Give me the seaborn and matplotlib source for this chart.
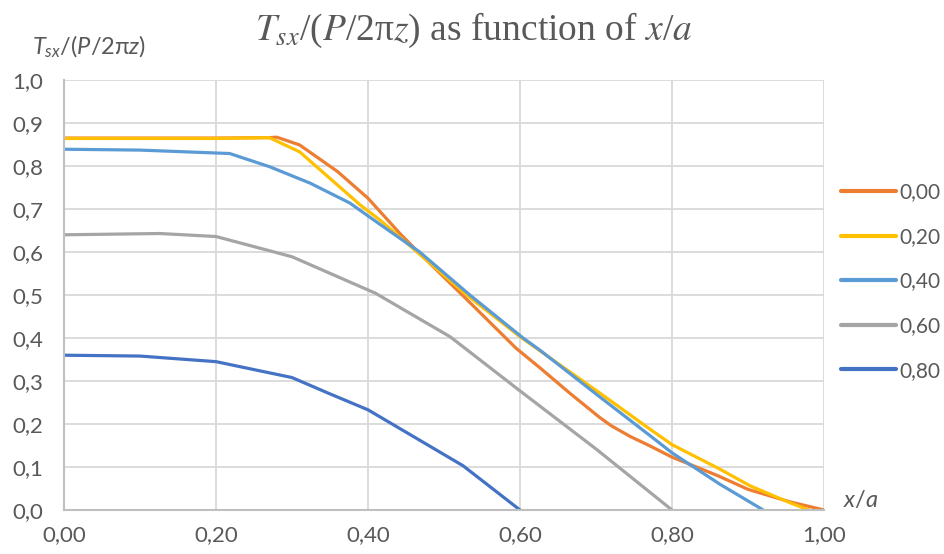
import numpy as np
import pandas as pd
import matplotlib
matplotlib.use("Agg")
import matplotlib.pyplot as plt
import seaborn as sns

# ---- data ----
series_names = ["0,00", "0,20", "0,40", "0,60", "0,80"]

x_000 = [0.00, 0.10, 0.20, 0.27, 0.28, 0.31, 0.36, 0.40, 0.442, 0.466, 0.524, 0.595, 0.626, 0.666,
         0.705, 0.72, 0.745, 0.771, 0.80, 0.86, 0.90, 0.955, 1.00]
y_000 = [0.865, 0.865, 0.865, 0.866, 0.867, 0.849, 0.787, 0.725, 0.643, 0.60, 0.50, 0.376, 0.331, 0.271,
         0.215, 0.196, 0.171, 0.149, 0.123, 0.08, 0.048, 0.019, 0.0]

x_020 = [0.00, 0.10, 0.20, 0.27, 0.31, 0.39, 0.416, 0.46, 0.53, 0.60, 0.705, 0.771, 0.80, 0.863, 0.903, 0.955, 0.98]
y_020 = [0.864, 0.864, 0.864, 0.866, 0.833, 0.709, 0.674, 0.607, 0.50, 0.403, 0.272, 0.188, 0.152, 0.095, 0.056, 0.017, 0.0]

x_040 = [0.00, 0.10, 0.218, 0.271, 0.324, 0.376, 0.42, 0.468, 0.534, 0.604, 0.626, 0.705, 0.771, 0.80, 0.863, 0.92]
y_040 = [0.839, 0.837, 0.829, 0.798, 0.76, 0.714, 0.659, 0.60, 0.50, 0.40, 0.372, 0.263, 0.173, 0.133, 0.060, 0.0]

x_060 = [0.00, 0.126, 0.20, 0.30, 0.41, 0.508, 0.60, 0.70, 0.80]
y_060 = [0.640, 0.643, 0.636, 0.589, 0.504, 0.403, 0.277, 0.142, 0.0]

x_080 = [0.00, 0.10, 0.20, 0.30, 0.35, 0.40, 0.525, 0.60]
y_080 = [0.360, 0.358, 0.345, 0.308, 0.27, 0.233, 0.103, 0.0]

x_ticks = [0.0, 0.2, 0.4, 0.6, 0.8, 1.0]
x_tick_labels = ["0,00", "0,20", "0,40", "0,60", "0,80", "1,00"]
y_ticks = [0.0, 0.1, 0.2, 0.3, 0.4, 0.5, 0.6, 0.7, 0.8, 0.9, 1.0]
y_tick_labels = ["0,0", "0,1", "0,2", "0,3", "0,4", "0,5", "0,6", "0,7", "0,8", "0,9", "1,0"]

colors = ["#ED7D31", "#FFC000", "#5B9BD5", "#A5A5A5", "#4472C4"]

frames = []
for name, xs, ys in zip(series_names,
                        [x_000, x_020, x_040, x_060, x_080],
                        [y_000, y_020, y_040, y_060, y_080]):
    frames.append(pd.DataFrame({"x": xs, "y": ys, "series": name}))
df = pd.concat(frames, ignore_index=True)

# ---- figure ----
sns.set_theme(style="white")
plt.rcParams["font.family"] = ["Lato", "DejaVu Sans"]
plt.rcParams["mathtext.fontset"] = "custom"
plt.rcParams["mathtext.rm"] = "Lato"
plt.rcParams["mathtext.it"] = "Lato:italic"

fig = plt.figure(figsize=(9.44, 5.54), dpi=100)
ax = fig.add_axes([64 / 944, 1 - 510 / 554, 760 / 944, 430 / 554])

sns.lineplot(data=df, x="x", y="y", hue="series", hue_order=series_names,
             palette=colors, sort=False, estimator=None, linewidth=2.3,
             ax=ax, legend=True)
for ln in ax.get_lines():
    ln.set_solid_joinstyle("round")
    ln.set_solid_capstyle("round")

ax.set_xlim(0, 1)
ax.set_ylim(0, 1)
ax.set_xticks(x_ticks)
ax.set_xticklabels(x_tick_labels)
ax.set_yticks(y_ticks)
ax.set_yticklabels(y_tick_labels)
ax.tick_params(axis="both", length=0, labelsize=16, labelcolor="#595959")
ax.tick_params(axis="y", pad=15)
ax.tick_params(axis="x", pad=11)
ax.grid(True, color="#D9D9D9", linewidth=1.3)
ax.set_axisbelow(True)
for s in ["top", "right"]:
    ax.spines[s].set_visible(False)
for s in ["left", "bottom"]:
    ax.spines[s].set_color("#BFBFBF")
    ax.spines[s].set_linewidth(1.5)
ax.set_xlabel("")
ax.set_ylabel("")

leg = ax.legend(loc="upper left", bbox_to_anchor=(1.023, 0.762), frameon=False,
                borderpad=0, borderaxespad=0,
                fontsize=15, labelcolor="#595959", handlelength=2.6,
                handletextpad=0.2, labelspacing=1.18)
for line in leg.get_lines():
    line.set_linewidth(3)

# title (Times-like)
fig.text(474 / 944, 1 - 30 / 554, r"$T_{sx}$/($P$/2π$z$) as function of $x$/$a$",
         ha="center", va="center", fontsize=27, color="#595959",
         family="Liberation Serif", math_fontfamily="stix")

# y axis label at top-left
fig.text(32 / 944, 1 - 47 / 554, r"$T_{sx}$/($P$/2π$z$)", ha="left", va="center",
         fontsize=17, color="#595959")

# x axis label at right end
fig.text(843 / 944, 1 - 500 / 554, r"$x$/$a$", ha="left", va="center",
         fontsize=17, color="#595959")

fig.savefig("out.png", dpi=100)
